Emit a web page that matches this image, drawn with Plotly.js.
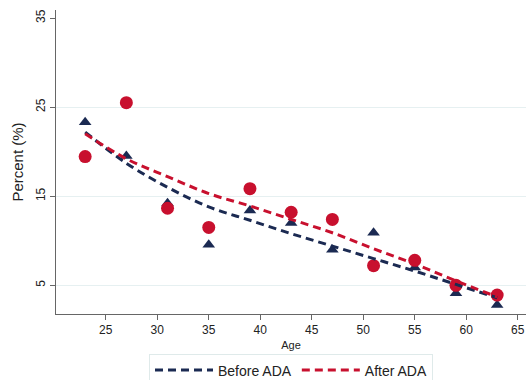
<!DOCTYPE html>
<html>
<head>
<meta charset="utf-8">
<script src="https://cdn.plot.ly/plotly-3.0.1.min.js"></script>
<style>html,body{margin:0;padding:0;background:#fff;}#chart{width:526px;height:380px;}</style>
</head>
<body>
<div id="chart"></div>
<script>
var ages = [23, 27, 31, 35, 39, 43, 47, 51, 55, 59, 63];
var beforeObs = [23.3, 19.5, 14.2, 9.55, 13.4, 12.0, 9.0, 10.9, 7.0, 4.1, 2.8];
var afterObs  = [19.45, 25.5, 13.65, 11.5, 15.85, 13.2, 12.4, 7.2, 7.8, 5.0, 3.9];
var beforeFit = [22.2, 18.7, 16.0, 13.8, 12.3, 10.8, 9.4, 8.0, 6.6, 5.1, 3.6];
var afterFit  = [22.0, 19.2, 17.2, 15.3, 13.9, 12.4, 10.9, 9.1, 7.4, 5.5, 3.7];
var seriesNames = ["Before ADA", "After ADA"];
var xTicks = [25, 30, 35, 40, 45, 50, 55, 60, 65];
var yTicks = [5, 15, 25, 35];
var yGrid = [5, 15, 25];

var navy = "#1b2a52";
var red = "#c8102e";
var font = "Liberation Sans, Arial, Helvetica, sans-serif";

var traces = [
  {x: [ages[0]], y: [yGrid[0]], yaxis: "y2", mode: "markers", showlegend: false,
   hoverinfo: "skip", marker: {opacity: 0}},
  {x: ages, y: beforeObs, mode: "markers", type: "scatter", showlegend: false,
   marker: {symbol: "triangle-up", size: 11, color: navy}},
  {x: ages, y: afterObs, mode: "markers", type: "scatter", showlegend: false,
   marker: {symbol: "circle", size: 13, color: red}},
  {x: ages, y: beforeFit, mode: "lines", type: "scatter", name: seriesNames[0],
   line: {color: navy, width: 3, dash: "8px,5px", shape: "spline"}},
  {x: ages, y: afterFit, mode: "lines", type: "scatter", name: seriesNames[1],
   line: {color: red, width: 3, dash: "8px,5px", shape: "spline"}}
];

var yRange = [1.78, 35.9];
var layout = {
  width: 526, height: 380,
  margin: {l: 56, r: 0, t: 10, b: 66, autoexpand: false},
  paper_bgcolor: "#ffffff", plot_bgcolor: "#ffffff",
  font: {family: font, color: "#222"},
  xaxis: {
    range: [20.17, 65.8], tickvals: xTicks, ticktext: xTicks.map(String),
    showgrid: false, zeroline: false, showline: true, linecolor: "#666", linewidth: 1,
    ticks: "outside", ticklen: 5, tickcolor: "#666", tickfont: {size: 12, color: "#222"},
    title: {text: "Age", font: {size: 11, color: "#222"}, standoff: 4},
    automargin: false
  },
  yaxis: {
    range: yRange, tickvals: yTicks, ticktext: yTicks.map(String),
    showgrid: false, zeroline: false, showline: true, linecolor: "#666", linewidth: 1,
    ticks: "outside", ticklen: 5, tickcolor: "#666", tickangle: -90,
    tickfont: {size: 12, color: "#222"},
    title: {text: "Percent (%)", font: {size: 15, color: "#222"}, standoff: 6},
    automargin: false
  },
  yaxis2: {
    overlaying: "y", range: yRange, tickvals: yGrid, showticklabels: false,
    showgrid: true, gridcolor: "#e6f0f1", gridwidth: 1, zeroline: false, showline: false, ticks: ""
  },
  showlegend: true,
  legend: {
    orientation: "h", x: 0.5, xanchor: "center", y: -0.13, yanchor: "top",
    bordercolor: "#dfeaea", borderwidth: 1, bgcolor: "#ffffff",
    font: {size: 14, color: "#222"}, itemwidth: 58, traceorder: "normal"
  }
};

Plotly.newPlot("chart", traces, layout, {displayModeBar: false, staticPlot: true});
</script>
</body>
</html>
